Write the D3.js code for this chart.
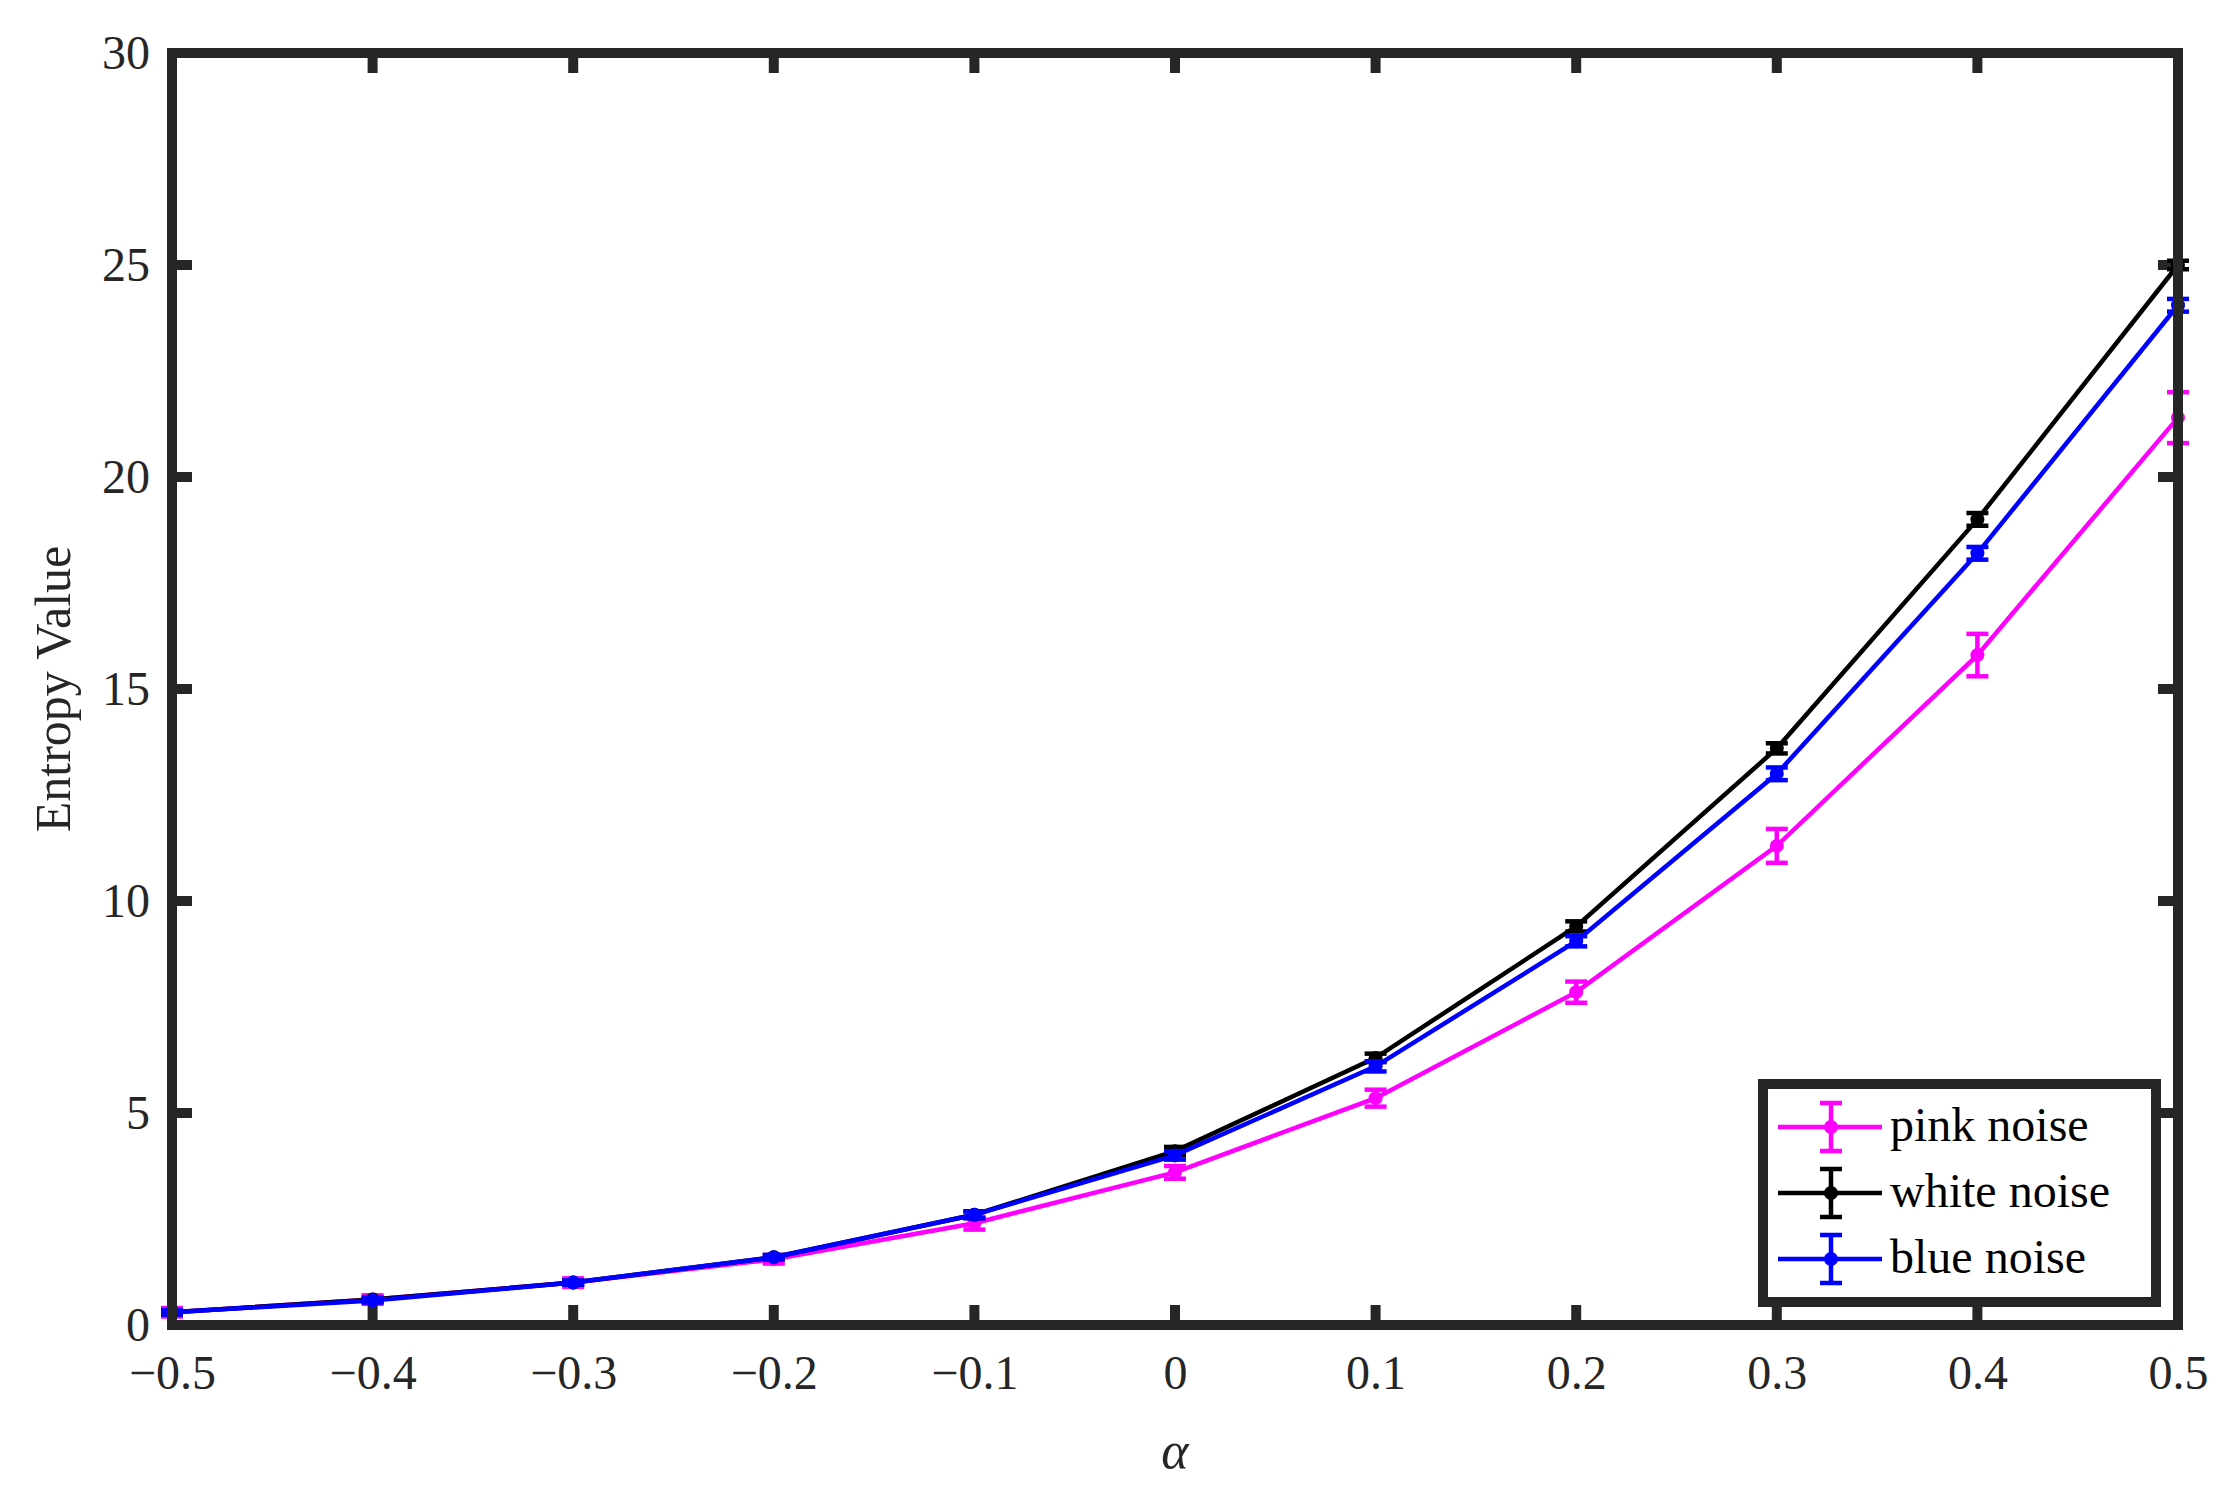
<!DOCTYPE html><html><head><meta charset="utf-8">
<script src="https://cdn.jsdelivr.net/npm/d3@7"></script>
<style>body{margin:0;background:#fff}text{font-family:"Liberation Serif","Times New Roman",serif;fill:#262626}</style>
</head><body><svg id="c" width="2231" height="1506"></svg><script>
const xs=[-0.5,-0.4,-0.3,-0.2,-0.1,0,0.1,0.2,0.3,0.4,0.5];
const pink=[0.3,0.6,1.0,1.55,2.4,3.6,5.35,7.85,11.3,15.8,21.4];
const pinkErr=[0.1,0.1,0.1,0.1,0.15,0.15,0.2,0.25,0.4,0.5,0.6];
const white=[0.3,0.6,1.0,1.6,2.6,4.1,6.3,9.4,13.6,19.0,25.0];
const whiteErr=[0.05,0.05,0.05,0.05,0.08,0.1,0.1,0.12,0.12,0.15,0.1];
const blue=[0.3,0.58,1.0,1.6,2.6,4.0,6.1,9.05,13.0,18.2,24.05];
const blueErr=[0.05,0.05,0.05,0.05,0.08,0.1,0.12,0.12,0.15,0.15,0.15];
const series=[{name:"pink noise",v:pink,e:pinkErr,c:"#ff00ff"},{name:"white noise",v:white,e:whiteErr,c:"#000000"},{name:"blue noise",v:blue,e:blueErr,c:"#0000ff"}];
const xTicks=[-0.5,-0.4,-0.3,-0.2,-0.1,0,0.1,0.2,0.3,0.4,0.5];
const yTicks=[0,5,10,15,20,25,30];
const L=172,R=2178,T=53,B=1325;
const svg=d3.select("#c");
const x=d3.scaleLinear().domain([-0.5,0.5]).range([L,R]);
const y=d3.scaleLinear().domain([0,30]).range([B,T]);
const g=svg.append("g");
const fmt=d=>d<0?"\u2212"+Math.abs(d):String(d);
const xa=g.append("g").attr("transform",`translate(0,${B})`).call(d3.axisBottom(x).tickValues(xTicks).tickFormat(fmt).tickSize(0).tickPadding(30));
xa.select(".domain").remove();xa.selectAll("text").attr("font-size",48).style("fill","#262626");
const ya=g.append("g").attr("transform",`translate(${L},0)`).call(d3.axisLeft(y).tickValues(yTicks).tickSize(0).tickPadding(22));
ya.select(".domain").remove();ya.selectAll("text").attr("font-size",48).style("fill","#262626");
// tick marks
const tl=20;
xTicks.forEach(t=>{[[B,B-tl],[T,T+tl]].forEach(p=>g.append("line").attr("x1",x(t)).attr("x2",x(t)).attr("y1",p[0]).attr("y2",p[1]).attr("stroke","#262626").attr("stroke-width",10));});
yTicks.forEach(t=>{[[L,L+tl],[R,R-tl]].forEach(p=>g.append("line").attr("y1",y(t)).attr("y2",y(t)).attr("x1",p[0]).attr("x2",p[1]).attr("stroke","#262626").attr("stroke-width",10));});
const line=d3.line().x((d,i)=>x(xs[i])).y(d=>y(d));
series.forEach(s=>{
 const sg=g.append("g");
 sg.append("path").datum(s.v).attr("d",line).attr("fill","none").attr("stroke",s.c).attr("stroke-width",4.5);
 s.v.forEach((v,i)=>{const cx=x(xs[i]);const y1=y(v+s.e[i]),y2=y(v-s.e[i]);
  sg.append("line").attr("x1",cx).attr("x2",cx).attr("y1",y1).attr("y2",y2).attr("stroke",s.c).attr("stroke-width",4.5);
  [y1,y2].forEach(yy=>sg.append("line").attr("x1",cx-11).attr("x2",cx+11).attr("y1",yy).attr("y2",yy).attr("stroke",s.c).attr("stroke-width",4.5));
  sg.append("circle").attr("cx",cx).attr("cy",y(v)).attr("r",7).attr("fill",s.c);
 });
});
g.append("rect").attr("x",L).attr("y",T).attr("width",R-L).attr("height",B-T).attr("fill","none").attr("stroke","#262626").attr("stroke-width",10);
// legend
const lx=1763,ly=1084,lw=393,lh=218;
g.append("rect").attr("x",lx).attr("y",ly).attr("width",lw).attr("height",lh).attr("fill","#fff").attr("stroke","#262626").attr("stroke-width",10);
series.forEach((s,i)=>{const cy=ly+10+i*66+60*0.0+ (i===0?20+27: i===1?20+93:20+159) -20 ;
 const yy=ly+26+57.5*0+[77-26,143-26,210-26][i];
 const ay=[1127,1193,1259][i];
 g.append("line").attr("x1",1778).attr("x2",1882).attr("y1",ay).attr("y2",ay).attr("stroke",s.c).attr("stroke-width",4.5);
 g.append("line").attr("x1",1831).attr("x2",1831).attr("y1",ay-24).attr("y2",ay+24).attr("stroke",s.c).attr("stroke-width",4.5);
 [ay-24,ay+24].forEach(q=>g.append("line").attr("x1",1820).attr("x2",1842).attr("y1",q).attr("y2",q).attr("stroke",s.c).attr("stroke-width",4.5));
 g.append("circle").attr("cx",1831).attr("cy",ay).attr("r",7).attr("fill",s.c);
 g.append("text").attr("x",1890).attr("y",ay+14).attr("font-size",48).style("fill","#000").text(s.name);
});
svg.append("text").attr("x",(L+R)/2).attr("y",1468).attr("text-anchor","middle").attr("font-size",52).attr("font-style","italic").text("α");
svg.append("text").attr("transform",`translate(70,${(T+B)/2}) rotate(-90)`).attr("text-anchor","middle").attr("font-size",50).text("Entropy Value");
</script></body></html>
